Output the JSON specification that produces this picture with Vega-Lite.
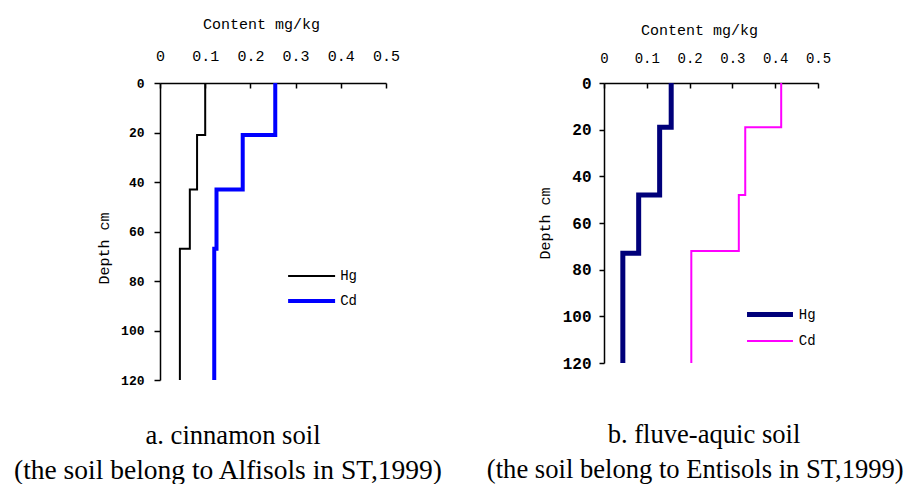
{
  "$schema": "https://vega.github.io/schema/vega-lite/v6.json",
  "padding": {"left": 12, "top": 16, "right": 0, "bottom": 0},
  "background": "white",
  "bounds": "flush",
  "config": {
    "view": {"stroke": null},
    "concat": {"spacing": 218},
    "axis": {
      "grid": false,
      "domainColor": "black",
      "domainWidth": 1.5,
      "tickColor": "black",
      "tickWidth": 1.5,
      "labelColor": "black",
      "titleColor": "black",
      "labelFont": "Liberation Mono",
      "titleFont": "Liberation Mono",
      "titleFontWeight": "normal",
      "labelFlush": false,
      "labelOverlap": false
    },
    "legend": {
      "labelFont": "Liberation Mono",
      "labelColor": "black",
      "labelFontSize": 14,
      "symbolType": "M-4,0H4",
      "padding": 0
    }
  },
  "data": {
    "values": [
      {"soil": "a", "element": "Hg", "depth": 0, "content": 0.1},
      {"soil": "a", "element": "Hg", "depth": 21, "content": 0.082},
      {"soil": "a", "element": "Hg", "depth": 43, "content": 0.066},
      {"soil": "a", "element": "Hg", "depth": 67, "content": 0.044},
      {"soil": "a", "element": "Hg", "depth": 120, "content": 0.044},
      {"soil": "a", "element": "Cd", "depth": 0, "content": 0.255},
      {"soil": "a", "element": "Cd", "depth": 21, "content": 0.183},
      {"soil": "a", "element": "Cd", "depth": 43, "content": 0.125},
      {"soil": "a", "element": "Cd", "depth": 67, "content": 0.12},
      {"soil": "a", "element": "Cd", "depth": 120, "content": 0.12},
      {"soil": "b", "element": "Hg", "depth": 0, "content": 0.157},
      {"soil": "b", "element": "Hg", "depth": 19, "content": 0.13},
      {"soil": "b", "element": "Hg", "depth": 48, "content": 0.081},
      {"soil": "b", "element": "Hg", "depth": 73, "content": 0.044},
      {"soil": "b", "element": "Hg", "depth": 120, "content": 0.044},
      {"soil": "b", "element": "Cd", "depth": 0, "content": 0.414},
      {"soil": "b", "element": "Cd", "depth": 19, "content": 0.33},
      {"soil": "b", "element": "Cd", "depth": 48, "content": 0.315},
      {"soil": "b", "element": "Cd", "depth": 72, "content": 0.204},
      {"soil": "b", "element": "Cd", "depth": 120, "content": 0.204}
    ]
  },
  "hconcat": [
    {
      "width": 226,
      "height": 297,
      "transform": [{"filter": "datum.soil === 'a'"}],
      "encoding": {
        "y": {
          "field": "depth",
          "type": "quantitative",
          "scale": {"domain": [0, 120], "reverse": true, "nice": false},
          "axis": {
            "values": [0, 20, 40, 60, 80, 100, 120],
            "title": "Depth cm",
            "tickSize": 6,
            "labelPadding": 10,
            "labelFontSize": 13,
            "labelFontWeight": "bold",
            "titleX": -57,
            "titleY": 165,
            "titleBaseline": "middle",
            "titleAngle": 270,
            "titleFontSize": 15
          }
        },
        "color": {
          "field": "element",
          "type": "nominal",
          "scale": {"domain": ["Hg", "Cd"], "range": ["#000000", "#0000ff"]},
          "legend": {"orient": "none", "legendX": 143.6, "legendY": 186, "title": null, "symbolSize": 138, "rowPadding": 10, "labelOffset": 20.6}
        },
        "strokeWidth": {
          "field": "element",
          "type": "ordinal",
          "scale": {"domain": ["Hg", "Cd"], "range": [2, 4]},
          "legend": {"orient": "none", "legendX": 143.6, "legendY": 186, "title": null, "symbolSize": 138, "rowPadding": 10, "labelOffset": 20.6}
        },
        "order": {"field": "depth", "type": "quantitative"}
      },
      "layer": [
        {
          "transform": [{"filter": "datum.element === 'Hg'"}],
          "mark": {"type": "line", "interpolate": "step-before"},
          "encoding": {
            "x": {
              "field": "content",
              "type": "quantitative",
              "scale": {"domain": [0, 0.5], "nice": false},
              "axis": {
                "orient": "top",
                "values": [0, 0.1, 0.2, 0.3, 0.4, 0.5],
                "labelExpr": "datum.value === 0 ? '0' : format(datum.value, '.1f')",
                "title": "Content mg/kg",
                "tickSize": -5,
                "labelPadding": 33,
                "labelBaseline": "middle",
                "labelFontSize": 15,
                "titleX": 101,
                "titleY": -60,
                "titleBaseline": "middle",
                "titleFontSize": 15
              }
            }
          }
        },
        {
          "transform": [{"filter": "datum.element === 'Cd'"}],
          "mark": {"type": "line", "interpolate": "step-before"},
          "encoding": {
            "x": {
              "field": "content",
              "type": "quantitative",
              "scale": {"domain": [0, 0.5], "nice": false},
              "axis": {
                "orient": "bottom",
                "title": "(the soil belong to Alfisols in ST,1999)",
                "domain": false,
                "ticks": false,
                "labels": false,
                "titleFont": "Liberation Serif",
                "titleFontSize": 27.5,
                "titleX": 67.5,
                "titleY": 90,
                "titleAlign": "center",
                "titleBaseline": "middle",
                "titleAngle": 0
              }
            },
            "y": {
              "field": "depth",
              "type": "quantitative",
              "scale": {"domain": [0, 120], "reverse": true, "nice": false},
              "axis": {
                "orient": "right",
                "title": "a. cinnamon soil",
                "domain": false,
                "ticks": false,
                "labels": false,
                "titleFont": "Liberation Serif",
                "titleFontSize": 26.6,
                "titleX": -153.5,
                "titleY": 352,
                "titleAlign": "center",
                "titleBaseline": "middle",
                "titleAngle": 0
              }
            }
          }
        }
      ],
      "resolve": {"axis": {"x": "independent", "y": "independent"}}
    },
    {
      "width": 214,
      "height": 280,
      "transform": [{"filter": "datum.soil === 'b'"}],
      "encoding": {
        "y": {
          "field": "depth",
          "type": "quantitative",
          "scale": {"domain": [0, 120], "reverse": true, "nice": false},
          "axis": {
            "values": [0, 20, 40, 60, 80, 100, 120],
            "title": "Depth cm",
            "tickSize": 5,
            "labelPadding": 8,
            "labelFontSize": 16,
            "labelFontWeight": "bold",
            "titleX": -60,
            "titleBaseline": "middle",
            "titleAngle": 270,
            "titleFontSize": 15
          }
        },
        "color": {
          "field": "element",
          "type": "nominal",
          "scale": {"domain": ["Hg", "Cd"], "range": ["#00007a", "#ff00ff"]},
          "legend": {"orient": "none", "legendX": 157.5, "legendY": 223, "title": null, "symbolSize": 132, "rowPadding": 9, "labelOffset": 20.3}
        },
        "strokeWidth": {
          "field": "element",
          "type": "ordinal",
          "scale": {"domain": ["Hg", "Cd"], "range": [5, 2]},
          "legend": {"orient": "none", "legendX": 157.5, "legendY": 223, "title": null, "symbolSize": 132, "rowPadding": 9, "labelOffset": 20.3}
        },
        "order": {"field": "depth", "type": "quantitative"}
      },
      "layer": [
        {
          "transform": [{"filter": "datum.element === 'Hg'"}],
          "mark": {"type": "line", "interpolate": "step-before"},
          "encoding": {
            "x": {
              "field": "content",
              "type": "quantitative",
              "scale": {"domain": [0, 0.5], "nice": false},
              "axis": {
                "orient": "top",
                "values": [0, 0.1, 0.2, 0.3, 0.4, 0.5],
                "labelExpr": "datum.value === 0 ? '0' : format(datum.value, '.1f')",
                "title": "Content mg/kg",
                "tickSize": -5,
                "labelPadding": 30,
                "labelBaseline": "middle",
                "labelFontSize": 14,
                "titleX": 95,
                "titleY": -54,
                "titleBaseline": "middle",
                "titleFontSize": 15
              }
            }
          }
        },
        {
          "transform": [{"filter": "datum.element === 'Cd'"}],
          "mark": {"type": "line", "interpolate": "step-before"},
          "encoding": {
            "x": {
              "field": "content",
              "type": "quantitative",
              "scale": {"domain": [0, 0.5], "nice": false},
              "axis": {
                "orient": "bottom",
                "title": "(the soil belong to Entisols in ST,1999)",
                "domain": false,
                "ticks": false,
                "labels": false,
                "titleFont": "Liberation Serif",
                "titleFontSize": 26.6,
                "titleX": 90.8,
                "titleY": 106,
                "titleAlign": "center",
                "titleBaseline": "middle",
                "titleAngle": 0
              }
            },
            "y": {
              "field": "depth",
              "type": "quantitative",
              "scale": {"domain": [0, 120], "reverse": true, "nice": false},
              "axis": {
                "orient": "right",
                "title": "b. fluve-aquic soil",
                "domain": false,
                "ticks": false,
                "labels": false,
                "titleFont": "Liberation Serif",
                "titleFontSize": 26.6,
                "titleX": -114.5,
                "titleY": 351,
                "titleAlign": "center",
                "titleBaseline": "middle",
                "titleAngle": 0
              }
            }
          }
        }
      ],
      "resolve": {"axis": {"x": "independent", "y": "independent"}}
    }
  ],
  "resolve": {
    "scale": {"color": "independent", "strokeWidth": "independent", "x": "independent", "y": "independent"},
    "legend": {"color": "independent", "strokeWidth": "independent"}
  }
}
